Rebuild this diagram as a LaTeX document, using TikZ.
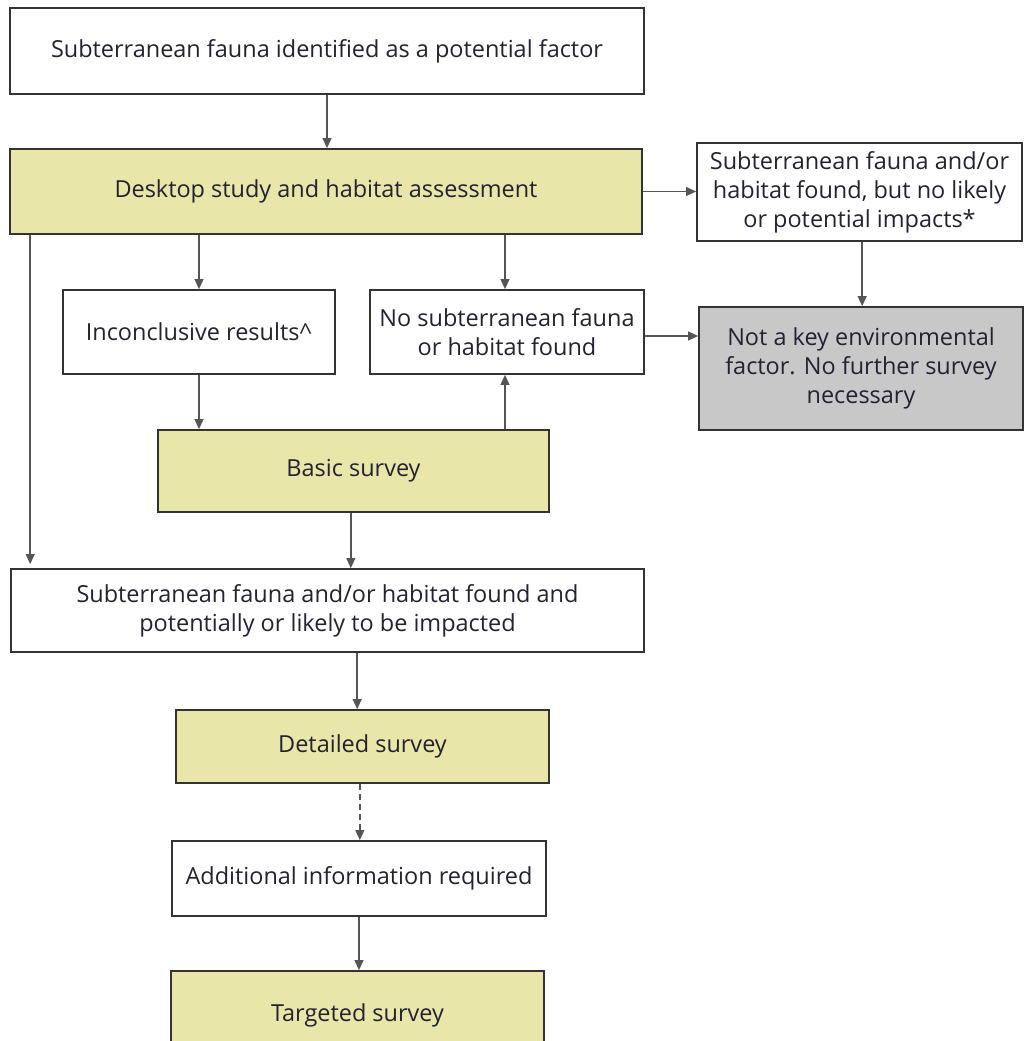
\documentclass[tikz,border=0pt]{standalone}
\usepackage{fontspec}
\setmainfont{Open Sans}
\usetikzlibrary{arrows.meta}
\definecolor{surveyfill}{HTML}{E8E6A8}
\definecolor{stopfill}{HTML}{C8C8C8}
\definecolor{linegray}{HTML}{555555}
\definecolor{textdark}{HTML}{222230}
\begin{document}
\begin{tikzpicture}[
        x=0.75pt, y=-0.75pt,
        box/.style={draw=black!80, line width=1.2pt, rectangle, align=center, text=textdark,
            font=\fontsize{17.6}{21.75}\selectfont},
        survey/.style={box, fill=surveyfill},
        stopbox/.style={box, fill=stopfill},
        arr/.style={draw=linegray, line width=1.3pt, -{Triangle[length=7.5pt,width=6.5pt]}}
    ]
    \useasboundingbox (0,0) rectangle (1024,1041);
    % top row
    \node[box, minimum width=475.5pt, minimum height=64.5pt] (factor) at (327,51) {Subterranean fauna identified as a potential factor};
    \node[survey, minimum width=474pt, minimum height=63.75pt] (desktop) at (326,191.5) {Desktop study and habitat assessment};
    \node[box, minimum width=243.75pt, minimum height=73.5pt] (noimpact) at (859.5,192) {Subterranean fauna and/or\\habitat found, but no likely\\or potential impacts*};
    % middle
    \node[box, minimum width=204pt, minimum height=63pt] (inconcl) at (199,332) {Inconclusive results\^{}};
    \node[box, minimum width=205.5pt, minimum height=63pt] (nofauna) at (507,332) {No subterranean fauna\\or habitat found};
    \node[stopbox, minimum width=243pt, minimum height=92.25pt] (notkey) at (861,368.5) {Not a key environmental\\factor. No further survey\\necessary};
    \node[survey, minimum width=293.25pt, minimum height=61.5pt] (basic) at (353.5,471) {Basic survey};
    % lower column
    \node[box, minimum width=474.75pt, minimum height=62.25pt] (impacted) at (327.5,610.5) {Subterranean fauna and/or habitat found and\\potentially or likely to be impacted};
    \node[survey, minimum width=279.75pt, minimum height=54.75pt] (detailed) at (362.5,746.5) {Detailed survey};
    \node[box, minimum width=280.5pt, minimum height=56.25pt] (addinfo) at (359,878.5) {Additional information required};
    \node[survey, minimum width=279.75pt, minimum height=66.75pt] (targeted) at (357.5,1015.5) {Targeted survey};
    % connectors
    \draw[arr] (factor.south) -- (factor.south |- desktop.north);
    \draw[arr] (desktop.east) -- (noimpact.west |- desktop.east);
    \draw[arr] (inconcl.north |- desktop.south) -- (inconcl.north);
    \draw[arr] ([xshift=-1.5pt]nofauna.north |- desktop.south) -- ([xshift=-1.5pt]nofauna.north);
    \draw[arr] ([xshift=15.75pt]desktop.south west) -- ([xshift=15.75pt,yshift=3pt]desktop.south west |- impacted.north);
    \draw[arr] ([xshift=2pt]noimpact.south) -- ([xshift=2pt]noimpact.south |- notkey.north);
    \draw[arr] (nofauna.east |- 0,336) -- (notkey.west |- 0,336);
    \draw[arr] (inconcl.south) -- (inconcl.south |- basic.north);
    \draw[arr] ([xshift=-1.5pt]nofauna.south |- basic.north) -- ([xshift=-1.5pt]nofauna.south);
    \draw[arr] ([xshift=-2pt]basic.south) -- ([xshift=-2pt]basic.south |- impacted.north);
    \draw[arr] ([xshift=-4pt]detailed.north |- impacted.south) -- ([xshift=-4pt]detailed.north);
    \draw[arr, dash pattern=on 5pt off 2.5pt] ([xshift=-2pt]detailed.south) -- ([xshift=-2pt]detailed.south |- addinfo.north);
    \draw[arr] (addinfo.south) -- (addinfo.south |- targeted.north);
\end{tikzpicture}
\end{document}
